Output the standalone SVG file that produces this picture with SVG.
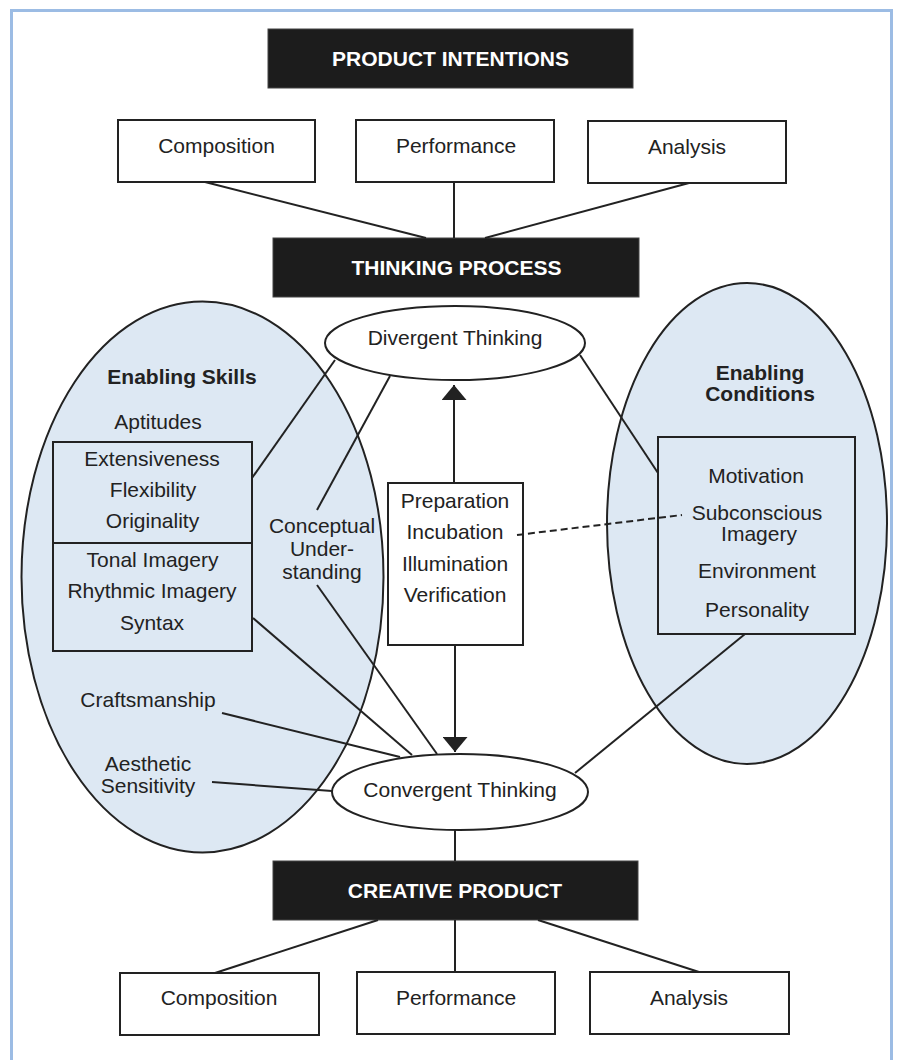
<svg xmlns="http://www.w3.org/2000/svg" width="897" height="1060" viewBox="0 0 897 1060">
<style>
text{font-family:"Liberation Sans",Arial,Helvetica,sans-serif;font-size:21px;fill:#222;text-anchor:middle}
.hdr{fill:#1c1c1c;stroke:#444;stroke-width:1}
.hdrt{fill:#fff;font-weight:bold;font-size:21px}
.box{fill:#fff;stroke:#222;stroke-width:2}
.obox{fill:none;stroke:#222;stroke-width:2}
.blob{fill:#dde8f3;stroke:#222;stroke-width:2}
.ell{fill:#fff;stroke:#222;stroke-width:2}
.b{font-weight:bold}
.ln{stroke:#222;stroke-width:2;fill:none}
.dash{stroke:#222;stroke-width:2;fill:none;stroke-dasharray:7 4}
</style>
<defs>
<marker id="ah" viewBox="0 0 10 10" refX="10" refY="5" markerWidth="15" markerHeight="25" markerUnits="userSpaceOnUse" orient="auto" preserveAspectRatio="none">
<path d="M0,0 L10,5 L0,10 Z" fill="#222"/>
</marker>
</defs>
<rect x="0" y="0" width="897" height="1060" fill="#fff"/>
<rect x="11.5" y="10.5" width="880" height="1070" fill="none" stroke="#9cbce4" stroke-width="3"/>

<g id="enabling-skills">
<ellipse class="blob" cx="202.5" cy="577" rx="181" ry="275.5"/>
<text class="b" x="182" y="384">Enabling Skills</text>
<text x="158" y="429">Aptitudes</text>
</g>
<g id="enabling-conditions">
<ellipse class="blob" cx="747" cy="523.5" rx="140" ry="240.5"/>
<text class="b" x="760" y="380">Enabling</text>
<text class="b" x="760" y="401">Conditions</text>
</g>

<g id="product-intentions">
<rect class="hdr" x="268" y="29" width="365" height="59"/>
<text class="hdrt" x="450.5" y="66">PRODUCT INTENTIONS</text>
</g>
<g id="pi-composition"><rect class="box" x="118" y="120" width="197" height="62"/><text x="216.5" y="153">Composition</text></g>
<g id="pi-performance"><rect class="box" x="356" y="120" width="198" height="62"/><text x="456" y="153">Performance</text></g>
<g id="pi-analysis"><rect class="box" x="588" y="121" width="198" height="62"/><text x="687" y="154">Analysis</text></g>

<g id="thinking-process">
<rect class="hdr" x="273" y="238" width="366" height="59"/>
<text class="hdrt" x="456.5" y="275">THINKING PROCESS</text>
</g>

<g id="divergent-thinking">
<ellipse class="ell" cx="455" cy="343" rx="130" ry="37"/>
<text x="455" y="345">Divergent Thinking</text>
</g>

<g id="aptitudes-box">
<rect class="obox" x="53" y="442" width="199" height="101"/>
<text x="152" y="466">Extensiveness</text>
<text x="153" y="497">Flexibility</text>
<text x="152.5" y="528">Originality</text>
</g>
<g id="imagery-box">
<rect class="obox" x="53" y="543" width="199" height="108"/>
<text x="152.5" y="567">Tonal Imagery</text>
<text x="152" y="598">Rhythmic Imagery</text>
<text x="152" y="630">Syntax</text>
</g>

<g id="conceptual-understanding">
<text x="322" y="533">Conceptual</text>
<text x="322" y="556">Under-</text>
<text x="322" y="579">standing</text>
</g>
<g id="craftsmanship"><text x="148" y="707">Craftsmanship</text></g>
<g id="aesthetic-sensitivity">
<text x="148" y="771">Aesthetic</text>
<text x="148" y="793">Sensitivity</text>
</g>

<g id="stages">
<rect class="box" x="388" y="483" width="135" height="162"/>
<text x="455" y="508">Preparation</text>
<text x="455" y="539">Incubation</text>
<text x="455" y="571">Illumination</text>
<text x="455" y="602">Verification</text>
</g>

<g id="conditions-box">
<rect class="obox" x="658" y="437" width="197" height="197"/>
<text x="756" y="483">Motivation</text>
<text x="757" y="520">Subconscious</text>
<text x="759" y="541">Imagery</text>
<text x="757" y="578">Environment</text>
<text x="757" y="617">Personality</text>
</g>

<g id="convergent-thinking">
<ellipse class="ell" cx="460" cy="792" rx="128" ry="38"/>
<text x="460" y="797">Convergent Thinking</text>
</g>

<g id="creative-product">
<rect class="hdr" x="273" y="861" width="365" height="59"/>
<text class="hdrt" x="455" y="898">CREATIVE PRODUCT</text>
</g>
<g id="cp-composition"><rect class="box" x="120" y="973" width="199" height="62"/><text x="219" y="1005">Composition</text></g>
<g id="cp-performance"><rect class="box" x="357" y="972" width="198" height="62"/><text x="456" y="1005">Performance</text></g>
<g id="cp-analysis"><rect class="box" x="590" y="972" width="199" height="62"/><text x="689" y="1005">Analysis</text></g>

<g id="connectors">
<line class="ln" x1="205" y1="182" x2="426" y2="238"/>
<line class="ln" x1="454" y1="182" x2="454" y2="238"/>
<line class="ln" x1="689" y1="183" x2="485" y2="238"/>
<line class="ln" x1="335" y1="360" x2="252" y2="478"/>
<line class="ln" x1="390" y1="376" x2="317" y2="510"/>
<line class="ln" x1="580" y1="355" x2="658" y2="473"/>
<line class="ln" x1="317" y1="585" x2="437" y2="754"/>
<line class="ln" x1="253" y1="618" x2="412" y2="755"/>
<line class="ln" x1="222" y1="713" x2="400" y2="757"/>
<line class="ln" x1="212" y1="782" x2="332" y2="791"/>
<line class="ln" x1="745" y1="634" x2="575" y2="773"/>
<line class="dash" x1="517" y1="535" x2="682" y2="515"/>
<line class="ln" x1="454" y1="483" x2="454" y2="385" marker-end="url(#ah)"/>
<line class="ln" x1="455" y1="645" x2="455" y2="752" marker-end="url(#ah)"/>
<line class="ln" x1="455" y1="830" x2="455" y2="861"/>
<line class="ln" x1="378" y1="920" x2="215" y2="973"/>
<line class="ln" x1="455" y1="920" x2="455" y2="972"/>
<line class="ln" x1="538" y1="920" x2="699" y2="972"/>
</g>
</svg>
